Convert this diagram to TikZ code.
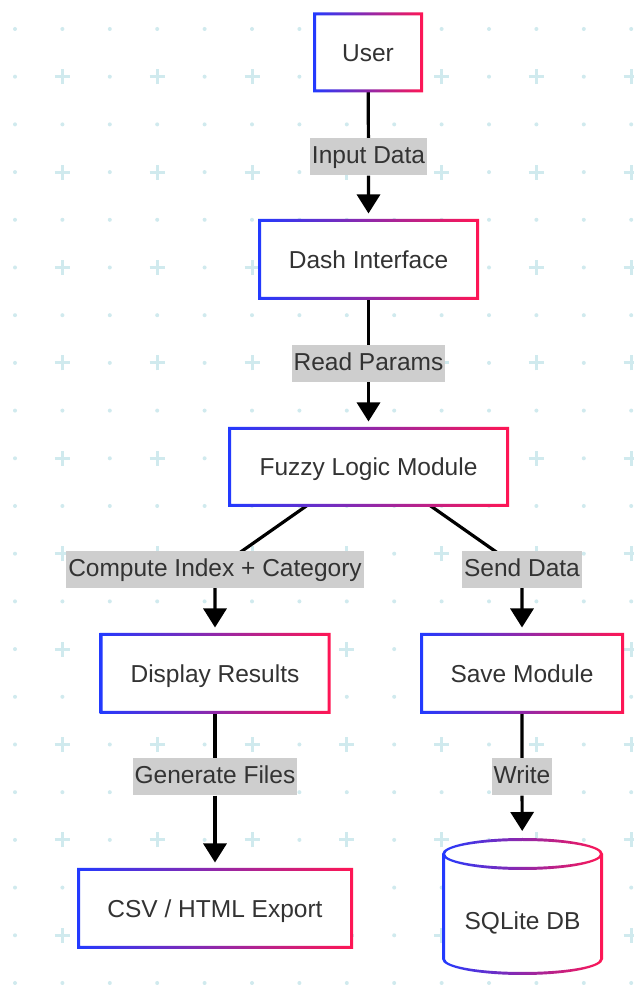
\documentclass[tikz,border=0pt]{standalone}
\usepackage{fontspec}
\setmainfont{Liberation Sans}
\usetikzlibrary{arrows.meta}

\definecolor{gB}{RGB}{34,58,255}
\definecolor{gR}{RGB}{255,22,84}
\definecolor{txt}{RGB}{51,51,51}
\definecolor{lblbg}{RGB}{206,206,206}
\definecolor{dotc}{RGB}{208,234,238}

\pgfdeclarelayer{background}
\pgfdeclarelayer{edges}
\pgfsetlayers{background,edges,main}

% blue-to-red gradient frame, 3pt wide, centred on a node's border
\newcommand\gradframe[1]{%
  \shade[left color=gB,right color=gR,even odd rule]
    ([shift={(-1.5pt,-1.5pt)}]#1.south west) rectangle ([shift={(1.5pt,1.5pt)}]#1.north east)
    ([shift={(1.5pt,1.5pt)}]#1.south west) rectangle ([shift={(-1.5pt,-1.5pt)}]#1.north east);}

\begin{document}
\begin{tikzpicture}[x=1pt,y=1pt,
  every node/.style={font=\fontsize{24.5pt}{29pt}\selectfont, text=txt},
  box/.style={rectangle, fill=white, minimum height=78pt, inner sep=0pt, outer sep=0pt,
              text height=22.2pt, text depth=4.2pt},
  plaintext/.style={inner sep=0pt, text height=22.2pt, text depth=4.2pt},
  lbl/.style={rectangle, fill=lblbg, inner xsep=2pt, inner ysep=0pt, minimum height=37pt,
              text height=21pt, text depth=7pt},
  conn/.style={line width=3.2pt, black, -{Triangle[length=19pt,width=23pt]}, shorten >=7pt}]

\useasboundingbox (0,0) rectangle (634,985);

% page background with dot-and-cross grid
\begin{pgfonlayer}{background}
  \fill[white] (0,0) rectangle (634,985);
  \begin{scope}
    \clip (0,0) rectangle (634,985);
    \foreach \k in {0,...,13}{
      \foreach \j in {0,...,20}{
        \pgfmathsetmacro\gx{15+47.4*\k}
        \pgfmathsetmacro\gy{956-47.7*\j}
        \pgfmathtruncatemacro\both{isodd(\k)*isodd(\j)}
        \ifnum\both=1
          \draw[dotc, line width=3pt] (\gx-7.5,\gy) -- (\gx+7.5,\gy) (\gx,\gy-7.5) -- (\gx,\gy+7.5);
        \else
          \fill[dotc] (\gx,\gy) circle[radius=2];
        \fi
      }}
  \end{scope}
\end{pgfonlayer}

% process boxes
\node[box, minimum width=107pt, minimum height=77pt] (user) at (368,932.5) {User};
\node[box, minimum width=218pt] (dash) at (368.5,725.5) {Dash Interface};
\node[box, minimum width=278pt, minimum height=77pt] (fz) at (368.5,518) {Fuzzy Logic Module};
\node[box, minimum width=228pt] (disp) at (215,311.5) {Display Results};
\node[box, minimum width=201pt] (save) at (522,311.5) {Save Module};
\node[box, minimum width=273pt] (csv) at (215,76.5) {CSV / HTML Export};

\gradframe{user}
\gradframe{dash}
\gradframe{fz}
\gradframe{disp}
\gradframe{save}
\gradframe{csv}

% database cylinder
\node[minimum width=161pt, minimum height=137pt, inner sep=0pt, outer sep=0pt] (db) at (522.5,78.5) {};
\fill[white] (442,131) -- (442,26) arc[start angle=180,end angle=360,x radius=80.5,y radius=16]
  -- (603,131) arc[start angle=0,end angle=180,x radius=80.5,y radius=16] -- cycle;
\shade[left color=gB,right color=gR,even odd rule]
  (442,131) -- (442,26) arc[start angle=180,end angle=360,x radius=80.5,y radius=16]
  -- (603,131) arc[start angle=0,end angle=180,x radius=80.5,y radius=16] -- cycle
  (445,131) -- (445,26) arc[start angle=180,end angle=360,x radius=77.5,y radius=13]
  -- (600,131) arc[start angle=0,end angle=180,x radius=77.5,y radius=13] -- cycle;
\shade[left color=gB,right color=gR]
  (442,131) arc[start angle=180,end angle=360,x radius=80.5,y radius=16]
  -- (600,131) arc[start angle=360,end angle=180,x radius=77.5,y radius=13] -- cycle;
\node[plaintext] (dbtext) at (522.5,64) {SQLite DB};

% edge labels
\node[lbl] (l1) at (368.5,828) {Input Data};
\node[lbl] (l2) at (368.5,621.5) {Read Params};
\node[lbl] (l3) at (215,415) {Compute Index + Category};
\node[lbl] (l4) at (522,415) {Send Data};
\node[lbl] (l5) at (215,208) {Generate Files};
\node[lbl] (l6) at (522,208) {Write};

% connectors
\begin{pgfonlayer}{edges}
  \draw[conn] (user) -- (l1) -- (dash);
  \draw[conn] (dash) -- (l2) -- (fz);
  \draw[conn] ([xshift=-61.5pt]fz.south) -- (l3.center) -- (disp);
  \draw[conn] ([xshift=61.5pt]fz.south) -- (l4.center) -- (save);
  \draw[conn] (disp) -- (l5) -- (csv);
  \draw[conn] (save) -- (l6) -- (db);
\end{pgfonlayer}

\end{tikzpicture}
\end{document}
